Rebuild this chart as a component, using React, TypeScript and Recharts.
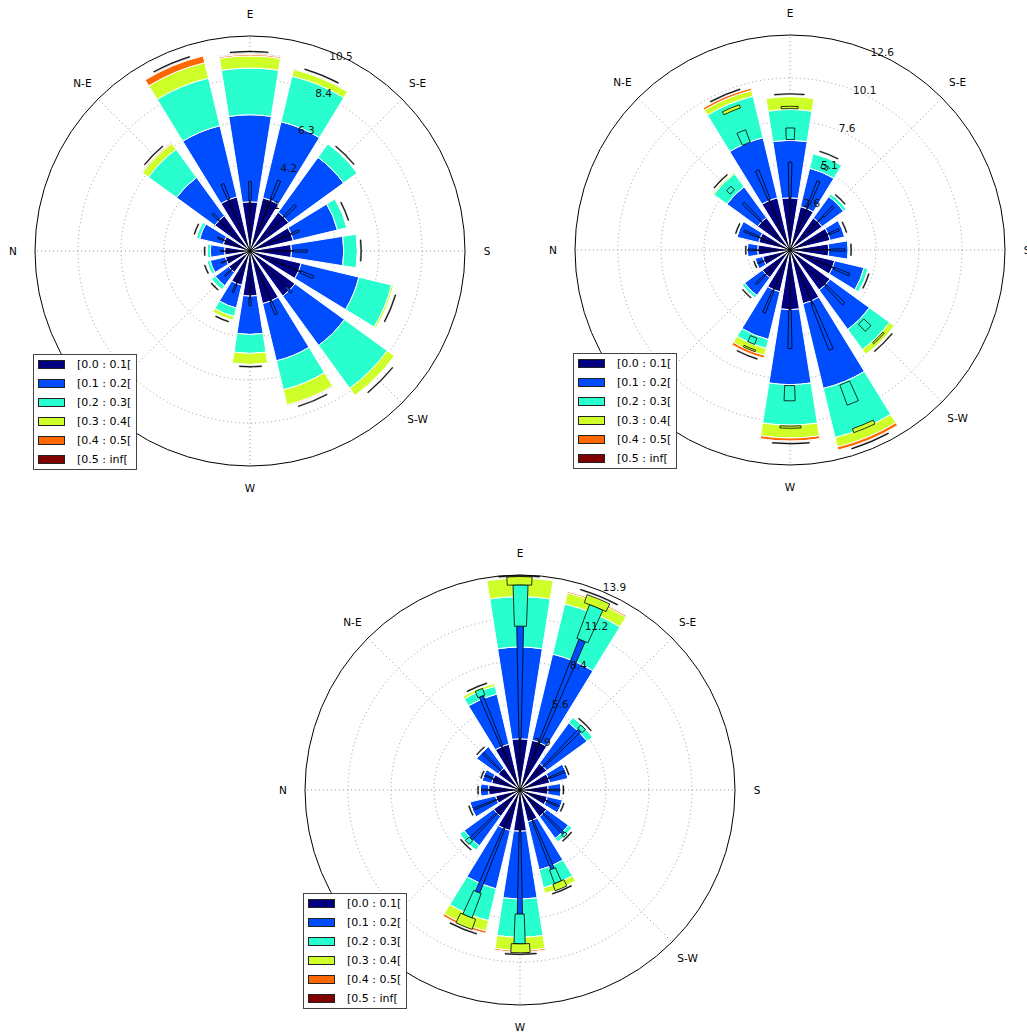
import React from 'react'
import {
  RadialBarChart,
  RadialBar,
  PolarAngleAxis,
  PolarRadiusAxis,
  PolarGrid,
  Legend,
  Cell,
} from 'recharts'

// directions, clockwise from the top of each rose
const DIRS = ['E', 'ESE', 'SE', 'SSE', 'S', 'SSW', 'SW', 'WSW', 'W', 'WNW', 'NW', 'NNW', 'N', 'NNE', 'NE', 'ENE']
// compass labels that show (N-W sits under the legend box)
const COMPASS: Record<string, string> = { E: 'E', SE: 'S-E', S: 'S', SW: 'S-W', W: 'W', N: 'N', NE: 'N-E' }
const BINS = ['[0.0 : 0.1[', '[0.1 : 0.2[', '[0.2 : 0.3[', '[0.3 : 0.4[', '[0.4 : 0.5[', '[0.5 : inf[']
const COLORS = ['#000080', '#004cff', '#29ffce', '#ceff29', '#ff6800', '#800000']

type Range = [number, number] | null

// ---- rose 1 (top left)
const P1_RMAX = 10.5
const P1_TICKS = ['2.1', '4.2', '6.3', '8.4', '10.5']
const P1_B0 = [2.52, 2.8, 2.45, 2.28, 2.12, 2.69, 2.85, 2.77, 2.31, 1.8, 1.35, 1.3, 1.3, 1.41, 2.23, 2.85]
const P1_B1 = [4.45, 4.0, 3.47, 2.32, 2.68, 3.04, 3.12, 3.01, 1.96, 1.2, 0.85, 0.8, 0.73, 1.24, 2.42, 3.74]
const P1_B2 = [2.39, 2.4, 0.86, 0.5, 0.7, 1.72, 2.71, 1.52, 0.97, 0.45, 0.24, 0.18, 0.17, 0.18, 1.78, 2.51]
const P1_B3 = [0.62, 0.36, 0.03, 0.02, 0.05, 0.12, 0.46, 0.8, 0.57, 0.21, 0.02, 0, 0, 0.02, 0.37, 0.81]
const P1_B4 = [0.08, 0.02, 0, 0, 0, 0, 0.01, 0.05, 0.02, 0, 0, 0, 0, 0, 0.05, 0.36]
const P1_B5 = [0.04, 0.02, 0, 0, 0, 0, 0, 0.02, 0, 0, 0, 0, 0, 0, 0.02, 0.03]
const P1_STEM: Range[] = [[2.57, 3.55], [2.9, 3.9], [2.5, 3.3], [2.3, 2.7], [2.2, 2.93], [2.8, 3.5], [2.6, 3.0], [2.8, 3.5], [2.4, 2.8], [1.9, 2.3], [1.5, 1.8], [1.4, 1.6], [1.35, 1.5], [1.5, 1.8], [2.3, 2.7], [2.85, 3.7]]
const P1_BOX: Range[] = DIRS.map(() => null)
const P1_TOP: Range[] = DIRS.map(() => null)
const P1_CAPS = [10.18, 9.69, 6.9, 5.25, 5.66, 7.75, 9.4, 8.3, 5.9, 3.75, 2.55, 2.4, 2.3, 2.95, 6.95, 10.38]

// ---- rose 2 (top right)
const P2_RMAX = 12.6
const P2_TICKS = ['2.6', '5.1', '7.6', '10.1', '12.6']
const P2_B0 = [3.16, 2.7, 2.4, 2.5, 2.34, 2.78, 3.0, 3.34, 3.61, 2.6, 2.07, 1.7, 1.95, 1.95, 2.42, 3.25]
const P2_B1 = [3.48, 2.38, 1.6, 0.9, 1.18, 1.82, 2.94, 5.27, 4.53, 2.97, 1.33, 0.48, 0.63, 1.35, 2.3, 3.73]
const P2_B2 = [1.86, 0.92, 0.22, 0.06, 0.08, 0.26, 1.5, 3.05, 2.45, 0.56, 0.2, 0.02, 0.02, 0.04, 0.98, 2.58]
const P2_B3 = [0.78, 0.07, 0, 0, 0, 0.02, 0.36, 0.59, 0.78, 0.42, 0, 0, 0, 0, 0.1, 0.36]
const P2_B4 = [0.02, 0, 0, 0, 0, 0, 0.02, 0.2, 0.19, 0.18, 0, 0, 0, 0, 0, 0.15]
const P2_B5 = [0, 0, 0, 0, 0, 0, 0, 0.03, 0.02, 0.02, 0, 0, 0, 0, 0, 0.02]
const P2_STEM: Range[] = [[3.16, 5.31], [3.0, 4.5], [2.9, 3.7], [2.6, 3.2], [2.45, 3.32], [2.9, 3.9], [3.1, 4.6], [3.54, 6.5], [3.61, 5.96], [2.7, 4.1], [2.2, 2.9], [1.75, 2.05], [2.05, 2.55], [2.1, 3.0], [2.6, 4.0], [3.3, 5.2]]
const P2_BOX: Range[] = [[6.68, 7.38], [5.3, 5.55], null, null, null, null, [6.1, 6.7], [8.7, 10.0], [8.2, 9.12], [5.7, 6.1], null, null, null, null, [4.95, 5.25], [6.95, 7.75]]
const P2_TOP: Range[] = [[8.55, 8.69], null, null, null, null, null, [7.5, 7.6], [11.45, 11.7], [10.65, 10.78], [6.4, 6.5], null, null, null, null, null, [9.1, 9.3]]
const P2_CAPS = [9.41, 6.2, 4.3, 3.55, 3.67, 4.95, 7.95, 12.55, 11.68, 6.85, 3.7, 2.25, 2.65, 3.4, 5.9, 10.15]

// ---- rose 3 (bottom)
const P3_RMAX = 13.9
const P3_TICKS = ['2.9', '5.6', '8.4', '11.2', '13.9']
const P3_B0 = [3.34, 3.34, 2.15, 2.0, 1.83, 1.84, 2.15, 2.13, 2.69, 2.72, 2.13, 1.64, 2.05, 1.9, 1.76, 3.07]
const P3_B1 = [5.97, 5.76, 3.25, 1.24, 0.86, 1.01, 1.75, 3.22, 4.42, 3.9, 2.37, 1.73, 0.54, 0.66, 1.74, 3.36]
const P3_B2 = [3.29, 3.36, 0.46, 0, 0, 0.05, 0.3, 1.2, 2.48, 2.13, 0.38, 0, 0, 0, 0, 0.52]
const P3_B3 = [1.2, 0.74, 0, 0, 0, 0, 0, 0.39, 0.86, 0.7, 0, 0, 0, 0, 0, 0.19]
const P3_B4 = [0.05, 0.1, 0, 0, 0, 0, 0, 0, 0.11, 0.17, 0, 0, 0, 0, 0, 0.03]
const P3_B5 = [0.02, 0.02, 0, 0, 0, 0, 0, 0, 0.04, 0.03, 0, 0, 0, 0, 0, 0]
const P3_STEM: Range[] = [[3.34, 10.67], [3.4, 10.55], [2.2, 5.5], [2.0, 3.1], [1.9, 2.6], [1.9, 2.7], [2.2, 4.0], [2.2, 5.56], [2.69, 8.08], [2.75, 7.2], [2.2, 4.5], [1.7, 3.2], [2.05, 2.5], [1.9, 2.45], [1.8, 3.35], [3.1, 6.6]]
const P3_BOX: Range[] = [[10.67, 13.36], [10.55, 12.9], [5.5, 5.8], null, null, null, [4.0, 4.2], [5.56, 6.5], [8.08, 10.02], [7.2, 8.9], [4.5, 4.85], null, null, null, null, [6.6, 7.05]]
const P3_TOP: Range[] = [[13.36, 13.9], [12.9, 13.45], null, null, null, null, null, [6.5, 6.95], [10.02, 10.6], [8.9, 9.6], null, null, null, null, null, null]
const P3_CAPS = [13.92, 13.6, 6.0, 3.3, 2.8, 2.95, 4.3, 7.05, 10.67, 9.75, 5.0, 3.45, 2.7, 2.62, 3.6, 7.25]

const SIZE = 540
const C = SIZE / 2
const R = 215
const HALF_BAND = 360 / DIRS.length / 2
// the angle axis puts its ticks at the start of each band, bars sit half a band further
const START = 90 - HALF_BAND
const RLABEL_ANGLE = 65
const FONT = '"DejaVu Sans", sans-serif'
const SPOKES = DIRS.map((_, i) => 90 - (i * 360) / DIRS.length).filter((_, i) => i % 2 === 0)

const chartProps = {
  width: SIZE,
  height: SIZE,
  cx: C,
  cy: C,
  innerRadius: 0,
  outerRadius: R,
  startAngle: START,
  endAngle: START - 360,
  layout: 'centric' as const,
  margin: { top: 0, right: 0, bottom: 0, left: 0 },
}

function AngleTick(props: any) {
  const { payload } = props
  const name = COMPASS[payload.value]
  if (!name) return <g />
  const a = ((payload.coordinate + HALF_BAND) * Math.PI) / 180
  return (
    <text
      x={C + (R + 22) * Math.cos(a)}
      y={C - (R + 22) * Math.sin(a)}
      textAnchor="middle"
      dominantBaseline="central"
      fontSize={10.5}
      fontFamily={FONT}
      fill="#000"
    >
      {name}
    </text>
  )
}

function makeRadiusTick(labels: string[], rmax: number) {
  return (props: any) => {
    const { payload } = props
    const idx = Math.round((payload.value / rmax) * labels.length) - 1
    const a = (RLABEL_ANGLE * Math.PI) / 180
    const r = payload.coordinate + 10
    return (
      <text
        x={C + r * Math.cos(a)}
        y={C - r * Math.sin(a)}
        textAnchor="middle"
        dominantBaseline="central"
        fontSize={10.5}
        fontFamily={FONT}
        fill="#111"
      >
        {labels[idx] ?? ''}
      </text>
    )
  }
}

function LegendBox() {
  return (
    <div
      style={{
        background: '#fff',
        border: '1px solid #444',
        padding: '0 5px 0 4px',
        fontFamily: FONT,
        fontSize: 11,
        color: '#000',
        whiteSpace: 'nowrap',
      }}
    >
      {BINS.map((label, k) => (
        <div key={label} style={{ display: 'flex', alignItems: 'center', height: 19 }}>
          <span
            style={{
              display: 'inline-block',
              width: 25,
              height: 7,
              background: COLORS[k],
              border: '1px solid #222',
              marginRight: 12,
            }}
          />
          <span>{label}</span>
        </div>
      ))}
    </div>
  )
}

interface RoseProps {
  x: number
  y: number
  rmax: number
  ticks: string[]
  bins: number[][]
  stem: Range[]
  box: Range[]
  top: Range[]
  caps: number[]
}

function Rose({ x, y, rmax, ticks, bins, stem, box, top, caps }: RoseProps) {
  const data = DIRS.map((dir, i) => {
    const row: Record<string, any> = { dir }
    bins.forEach((b, k) => {
      row[`b${k}`] = b[i]
    })
    return row
  })
  const capH = (rmax * 1.0) / R
  const layers = [
    { key: 'core', width: 1, fill: COLORS[0], line: 0.6, ranges: stem.map((s): Range => (s ? [0, s[0]] : null)) },
    { key: 'stem', width: 2.4, fill: COLORS[1], line: 0.8, ranges: stem },
    { key: 'box', width: 4.2, fill: COLORS[2], line: 0.8, ranges: box },
    { key: 'top', width: 6.8, fill: COLORS[3], line: 0.8, ranges: top },
    { key: 'cap', width: 11, fill: '#111', line: 0.4, ranges: caps.map((c): Range => [c, c + capH]) },
  ]
  const tickValues = ticks.map((_, k) => (rmax * (k + 1)) / ticks.length)
  const RadiusTick = makeRadiusTick(ticks, rmax)

  return (
    <div style={{ position: 'absolute', left: x - C, top: y - C, width: SIZE, height: SIZE }}>
      <div style={{ position: 'absolute', left: 0, top: 0 }}>
        <RadialBarChart {...chartProps} data={data}>
          <PolarGrid
            gridType="circle"
            polarAngles={SPOKES}
            polarRadius={tickValues.slice(0, -1).map((v) => (v / rmax) * R)}
            stroke="#999"
            strokeDasharray="1 3"
          />
          <PolarGrid gridType="circle" polarAngles={[]} polarRadius={[R]} radialLines={false} stroke="#000" />
          <PolarAngleAxis type="category" dataKey="dir" axisLine={false} tickLine={false} tick={AngleTick} />
          <PolarRadiusAxis type="number" domain={[0, rmax]} allowDataOverflow tick={false} axisLine={false} tickLine={false} />
          {BINS.map((b, k) => (
            <RadialBar
              key={b}
              dataKey={`b${k}`}
              stackId="speed"
              fill={COLORS[k]}
              stroke="#fff"
              strokeWidth={1}
              isAnimationActive={false}
            />
          ))}
        </RadialBarChart>
      </div>
      {layers.map((layer, li) => {
        const rows = DIRS.map((dir, i) => ({ dir, range: layer.ranges[i] ?? [0, 0], on: !!layer.ranges[i] }))
        const last = li === layers.length - 1
        return (
          <div key={layer.key} style={{ position: 'absolute', left: 0, top: 0 }}>
            <RadialBarChart {...chartProps} data={rows} barSize={layer.width}>
              <PolarAngleAxis type="category" dataKey="dir" tick={false} axisLine={false} tickLine={false} />
              <PolarRadiusAxis
                type="number"
                domain={[0, rmax]}
                allowDataOverflow
                ticks={last ? tickValues : undefined}
                angle={RLABEL_ANGLE}
                tick={last ? RadiusTick : false}
                axisLine={false}
                tickLine={false}
              />
              <RadialBar dataKey="range" fill={layer.fill} stroke="#000" strokeWidth={layer.line} isAnimationActive={false}>
                {rows.map((r, i) => (
                  <Cell key={i} fill={r.on ? layer.fill : 'none'} stroke={r.on ? '#000' : 'none'} />
                ))}
              </RadialBar>
              {last && (
                <Legend
                  content={() => <LegendBox />}
                  wrapperStyle={{ left: C - 217, top: C + 103, bottom: 'auto', width: 'auto', height: 'auto' }}
                />
              )}
            </RadialBarChart>
          </div>
        )
      })}
    </div>
  )
}

export default function App() {
  return (
    <div
      style={{
        position: 'absolute',
        left: 0,
        top: 0,
        width: 1027,
        height: 1032,
        overflow: 'hidden',
        background: '#fff',
      }}
    >
      <Rose
        x={250}
        y={251}
        rmax={P1_RMAX}
        ticks={P1_TICKS}
        bins={[P1_B0, P1_B1, P1_B2, P1_B3, P1_B4, P1_B5]}
        stem={P1_STEM}
        box={P1_BOX}
        top={P1_TOP}
        caps={P1_CAPS}
      />
      <Rose
        x={790}
        y={250}
        rmax={P2_RMAX}
        ticks={P2_TICKS}
        bins={[P2_B0, P2_B1, P2_B2, P2_B3, P2_B4, P2_B5]}
        stem={P2_STEM}
        box={P2_BOX}
        top={P2_TOP}
        caps={P2_CAPS}
      />
      <Rose
        x={520}
        y={790}
        rmax={P3_RMAX}
        ticks={P3_TICKS}
        bins={[P3_B0, P3_B1, P3_B2, P3_B3, P3_B4, P3_B5]}
        stem={P3_STEM}
        box={P3_BOX}
        top={P3_TOP}
        caps={P3_CAPS}
      />
    </div>
  )
}
